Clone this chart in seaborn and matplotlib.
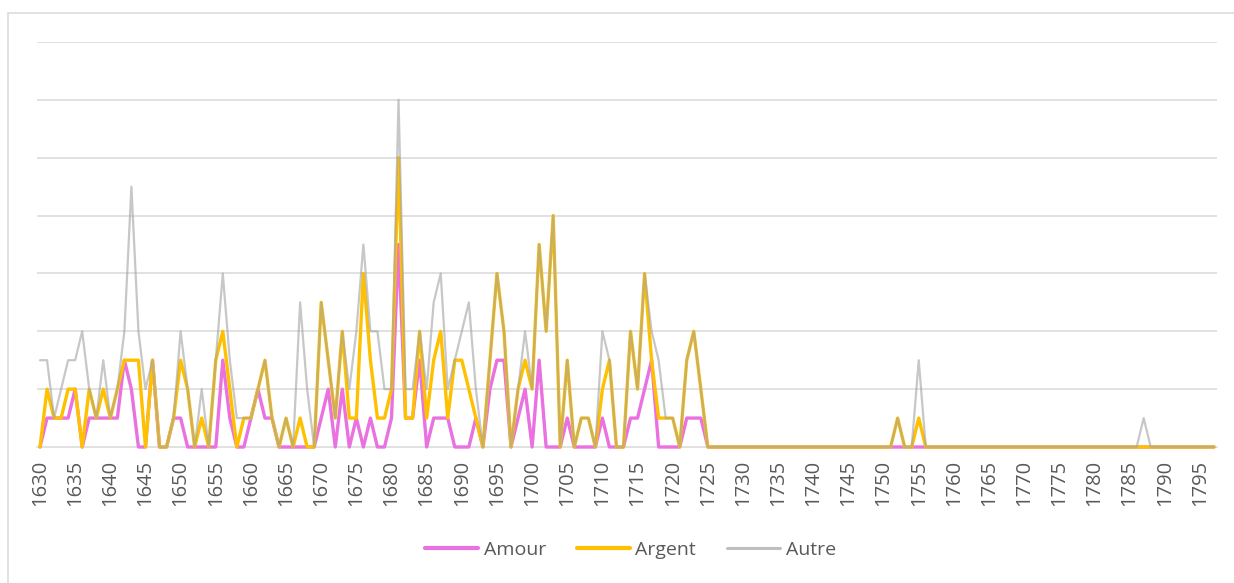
import matplotlib
matplotlib.use("Agg")
import matplotlib.pyplot as plt
from matplotlib.patches import Rectangle
from matplotlib.lines import Line2D
import seaborn as sns
import pandas as pd

sns.set_style("white")
plt.rcParams['font.family'] = ['Open Sans', 'DejaVu Sans']

# ---- data -------------------------------------------------------------
years = list(range(1630, 1798))

amour = [
    0, 1, 1, 1, 1, 2, 0, 1, 1, 1,   # 1630s
    1, 1, 3, 2, 0, 0, 3, 0, 0, 1,   # 1640s
    1, 0, 0, 0, 0, 0, 3, 1, 0, 0,   # 1650s
    1, 2, 1, 1, 0, 0, 0, 0, 0, 0,   # 1660s
    1, 2, 0, 2, 0, 1, 0, 1, 0, 0,   # 1670s
    1, 7, 1, 1, 3, 0, 1, 1, 1, 0,   # 1680s
    0, 0, 1, 0, 2, 3, 3, 0, 1, 2,   # 1690s
    0, 3, 0, 0, 0, 1, 0, 0, 0, 0,   # 1700s
    1, 0, 0, 0, 1, 1, 2, 3, 0, 0,   # 1710s
    0, 0, 1, 1, 1, 0, 0, 0, 0, 0,   # 1720s
    0, 0, 0, 0, 0, 0, 0, 0, 0, 0,   # 1730s
    0, 0, 0, 0, 0, 0, 0, 0, 0, 0,   # 1740s
    0, 0, 0, 0, 0, 0, 0, 0, 0, 0,   # 1750s
    0, 0, 0, 0, 0, 0, 0, 0, 0, 0,   # 1760s
    0, 0, 0, 0, 0, 0, 0, 0, 0, 0,   # 1770s
    0, 0, 0, 0, 0, 0, 0, 0, 0, 0,   # 1780s
    0, 0, 0, 0, 0, 0, 0, 0,         # 1790-1797
]

argent = [
    0, 2, 1, 1, 2, 2, 0, 2, 1, 2,   # 1630s
    1, 2, 3, 3, 3, 0, 3, 0, 0, 1,   # 1640s
    3, 2, 0, 1, 0, 3, 4, 2, 0, 1,   # 1650s
    1, 2, 3, 1, 0, 1, 0, 1, 0, 0,   # 1660s
    5, 3, 1, 4, 1, 1, 6, 3, 1, 1,   # 1670s
    2, 10, 1, 1, 4, 1, 3, 4, 1, 3,  # 1680s
    3, 2, 1, 0, 3, 6, 4, 0, 2, 3,   # 1690s
    2, 7, 4, 8, 0, 3, 0, 1, 1, 0,   # 1700s
    2, 3, 0, 0, 4, 2, 6, 3, 1, 1,   # 1710s
    1, 0, 3, 4, 2, 0, 0, 0, 0, 0,   # 1720s
    0, 0, 0, 0, 0, 0, 0, 0, 0, 0,   # 1730s
    0, 0, 0, 0, 0, 0, 0, 0, 0, 0,   # 1740s
    0, 0, 1, 0, 0, 1, 0, 0, 0, 0,   # 1750s
    0, 0, 0, 0, 0, 0, 0, 0, 0, 0,   # 1760s
    0, 0, 0, 0, 0, 0, 0, 0, 0, 0,   # 1770s
    0, 0, 0, 0, 0, 0, 0, 0, 0, 0,   # 1780s
    0, 0, 0, 0, 0, 0, 0, 0,         # 1790-1797
]

autre = [
    3, 3, 1, 2, 3, 3, 4, 2, 1, 3,   # 1630s
    1, 2, 4, 9, 4, 2, 3, 0, 0, 1,   # 1640s
    4, 2, 0, 2, 0, 3, 6, 3, 1, 1,   # 1650s
    1, 2, 3, 1, 0, 1, 0, 5, 2, 0,   # 1660s
    5, 3, 1, 4, 2, 4, 7, 4, 4, 2,   # 1670s
    2, 12, 2, 2, 4, 2, 5, 6, 2, 3,  # 1680s
    4, 5, 2, 0, 3, 6, 4, 0, 2, 4,   # 1690s
    2, 7, 4, 8, 0, 3, 0, 1, 1, 0,   # 1700s
    4, 3, 0, 0, 4, 2, 6, 4, 3, 1,   # 1710s
    1, 0, 3, 4, 2, 0, 0, 0, 0, 0,   # 1720s
    0, 0, 0, 0, 0, 0, 0, 0, 0, 0,   # 1730s
    0, 0, 0, 0, 0, 0, 0, 0, 0, 0,   # 1740s
    0, 0, 1, 0, 0, 3, 0, 0, 0, 0,   # 1750s
    0, 0, 0, 0, 0, 0, 0, 0, 0, 0,   # 1760s
    0, 0, 0, 0, 0, 0, 0, 0, 0, 0,   # 1770s
    0, 0, 0, 0, 0, 0, 0, 1, 0, 0,   # 1780s
    0, 0, 0, 0, 0, 0, 0, 0,         # 1790-1797
]

series_names = ["Amour", "Argent", "Autre"]
series_colors = {"Amour": "#E971E0", "Argent": "#FFC000", "Autre": "#A5A5A5"}
series_widths = {"Amour": 2.4, "Argent": 2.4, "Autre": 1.6}
series_alpha = {"Amour": 1.0, "Argent": 1.0, "Autre": 0.62}

tick_years = [y for y in years if y % 5 == 0]

# ---- figure -----------------------------------------------------------
W, H = 1234, 583
fig = plt.figure(figsize=(W / 100, H / 100), dpi=100)
fig.patch.set_facecolor("white")

ax_left, ax_right, ax_top, ax_bottom = 36.5, 1217.5, 42, 447
ax = fig.add_axes([ax_left / W, 1 - ax_bottom / H,
                   (ax_right - ax_left) / W, (ax_bottom - ax_top) / H])

pos = list(range(len(years)))
df = pd.DataFrame({"pos": pos, "year": years,
                   "Amour": amour, "Argent": argent, "Autre": autre})

grid_col = "#D9D9D9"
for yv in range(2, 15, 2):
    ax.axhline(yv, color=grid_col, lw=1.1, zorder=0)

for i, name in enumerate(series_names):
    sns.lineplot(data=df, x="pos", y=name, ax=ax, color=series_colors[name],
                 lw=series_widths[name], alpha=series_alpha[name],
                 zorder=3 + i, legend=False, clip_on=False,
                 solid_joinstyle="round", solid_capstyle="round")

ax.set_xlim(-0.5, len(years) - 0.5)
ax.set_ylim(0, 14)
ax.set_xlabel("")
ax.set_ylabel("")
ax.set_yticks([])

for s in ["left", "right", "top"]:
    ax.spines[s].set_visible(False)
ax.spines["bottom"].set_color(grid_col)
ax.spines["bottom"].set_linewidth(1.1)

tick_pos = [years.index(y) for y in tick_years]
ax.set_xticks(tick_pos)
ax.set_xticklabels([str(y) for y in tick_years], rotation=90,
                   fontsize=14.5, color="#595959")
ax.tick_params(axis="x", which="major", length=0, pad=9)
ax.set_xticks([p - 0.5 for p in pos] + [len(years) - 0.5], minor=True)
ax.tick_params(axis="x", which="minor", length=6, width=1.1, color=grid_col,
               direction="out")

handles = [Line2D([0], [0], color=series_colors[n], lw=series_widths[n] + 0.6,
                  alpha=series_alpha[n] if n != "Autre" else 0.7)
           for n in series_names]
leg = fig.legend(handles, series_names, loc="center",
                 bbox_to_anchor=(0.511, 1 - 550 / H), ncol=3, frameon=False,
                 fontsize=14, handlelength=2.7, handletextpad=0.3,
                 columnspacing=1.6)
for t in leg.get_texts():
    t.set_color("#595959")

fig.add_artist(Rectangle((8 / W, -0.01), 1.02, 1 - 13 / H + 0.01,
                         transform=fig.transFigure, fill=False,
                         edgecolor=grid_col, lw=1.1))

fig.savefig("out.png", dpi=100, facecolor="white")
